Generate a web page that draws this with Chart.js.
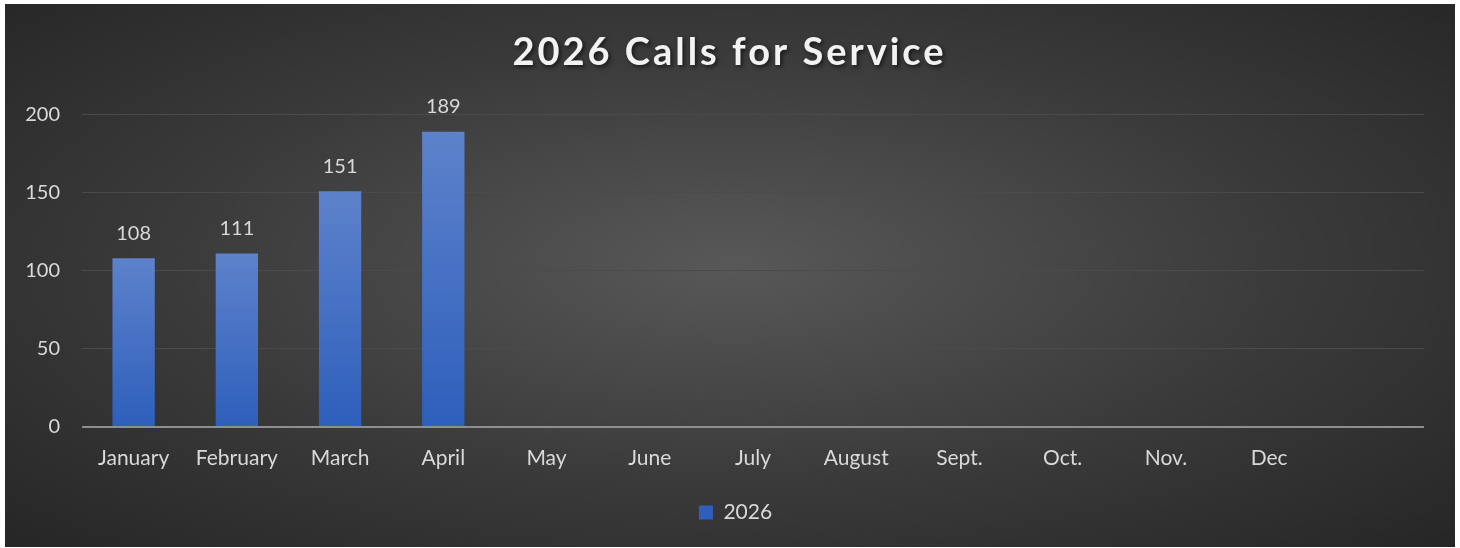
<!DOCTYPE html>
<html>
<head>
<meta charset="utf-8">
<script src="https://cdn.jsdelivr.net/npm/chart.js@4.4.1/dist/chart.umd.min.js"></script>
<style>
  html, body { margin: 0; padding: 0; background: #ffffff; }
  #panel {
    position: absolute; left: 5px; top: 4px; width: 1450px; height: 543px;
    background: radial-gradient(ellipse at 50% 48%, #585858 0%, #3a3a3a 55%, #262626 100%);
  }
  #chartWrap { position: relative; width: 1450px; height: 543px; }
</style>
</head>
<body>
<div id="panel">
  <div id="chartWrap"><canvas id="callsChart"></canvas></div>
</div>
<script>
// ---------- Data ----------
const months = ["January", "February", "March", "April", "May", "June", "July",
                "August", "Sept.", "Oct.", "Nov.", "Dec", ""];
const calls2026 = [108, 111, 151, 189, null, null, null, null, null, null, null, null, null];
const yTicks = [0, 50, 100, 150, 200];

const textColor = "#d9d9d9";
const fontFamily = "Lato, 'Open Sans', sans-serif";

// per-bar vertical gradient, lighter at top
function barFill(context) {
  const chart = context.chart;
  const area = chart.chartArea;
  if (!area) return "#3d6cc6";
  const yScale = chart.scales.y;
  let top = area.top;
  if (context.raw != null && yScale) top = yScale.getPixelForValue(context.raw);
  const g = chart.ctx.createLinearGradient(0, top, 0, area.bottom);
  g.addColorStop(0, "#5d82cb");
  g.addColorStop(1, "#2e5fbc");
  return g;
}

// ---------- Value labels above bars ----------
const valueLabels = {
  id: "valueLabels",
  afterDatasetsDraw(chart) {
    const ctx = chart.ctx;
    const meta = chart.getDatasetMeta(0);
    ctx.save();
    ctx.fillStyle = textColor;
    ctx.font = "20px " + fontFamily;
    ctx.textAlign = "center";
    ctx.textBaseline = "middle";
    meta.data.forEach((bar, i) => {
      const v = calls2026[i];
      if (v == null) return;
      ctx.fillText(String(v), bar.x, bar.y - 25);
    });
    ctx.restore();
  }
};

// ---------- Title with shadow + letter spacing, legend/title nudge ----------
const titleShadow = {
  id: "titleShadow",
  afterLayout(chart) {
    // title and legend sit a bit right of the plot centre in the original
    if (chart.legend) {
      chart.legend.left += 21;
      chart.legend.right += 21;
    }
    if (chart.titleBlock) {
      chart.titleBlock.left += 15;
      chart.titleBlock.right += 15;
    }
  },
  beforeDraw(chart) {
    const t = chart.titleBlock;
    if (!t || t._shadowPatched) return;
    const orig = t.draw.bind(t);
    t.draw = function () {
      const c = chart.ctx;
      c.save();
      c.shadowColor = "rgba(0,0,0,0.6)";
      c.shadowBlur = 4;
      c.shadowOffsetX = 2;
      c.shadowOffsetY = 2;
      c.letterSpacing = "3px";
      orig();
      c.restore();
    };
    t._shadowPatched = true;
  }
};

// ---------- Chart ----------
const ctx = document.getElementById("callsChart").getContext("2d");
new Chart(ctx, {
  type: "bar",
  data: {
    labels: months,
    datasets: [{
      label: "2026",
      data: calls2026,
      backgroundColor: barFill,
      borderWidth: 0,
      categoryPercentage: 1.0,
      barPercentage: 0.41
    }]
  },
  options: {
    responsive: true,
    maintainAspectRatio: false,
    animation: false,
    layout: { padding: { left: 0, right: 31, top: 0, bottom: 14 } },
    plugins: {
      title: {
        display: true,
        text: "2026 Calls for Service",
        color: "#f2f2f2",
        font: { family: fontFamily, size: 38, weight: "bold" },
        padding: { top: 26, bottom: 39 }
      },
      legend: {
        position: "bottom",
        labels: {
          color: textColor,
          font: { family: fontFamily, size: 21 },
          boxWidth: 14,
          boxHeight: 14,
          padding: 10
        }
      },
      tooltip: { enabled: false }
    },
    scales: {
      x: {
        grid: { display: false, drawTicks: false },
        border: { display: false },
        ticks: {
          color: textColor,
          font: { family: fontFamily, size: 21 },
          padding: 19,
          maxRotation: 0,
          autoSkip: false
        },
        afterFit(scale) { scale.height = 65; }
      },
      y: {
        min: 0,
        max: 200,
        afterBuildTicks(scale) { scale.ticks = yTicks.map(v => ({ value: v })); },
        grid: {
          drawTicks: false,
          color: c => (c.tick && c.tick.value === 0) ? "#8f8f8f" : "#4b4b4b",
          lineWidth: c => (c.tick && c.tick.value === 0) ? 2 : 1
        },
        border: { display: false },
        ticks: {
          color: textColor,
          font: { family: fontFamily, size: 20 },
          padding: 22
        },
        afterFit(scale) { scale.width = 77; }
      }
    }
  },
  plugins: [valueLabels, titleShadow]
});
</script>
</body>
</html>
